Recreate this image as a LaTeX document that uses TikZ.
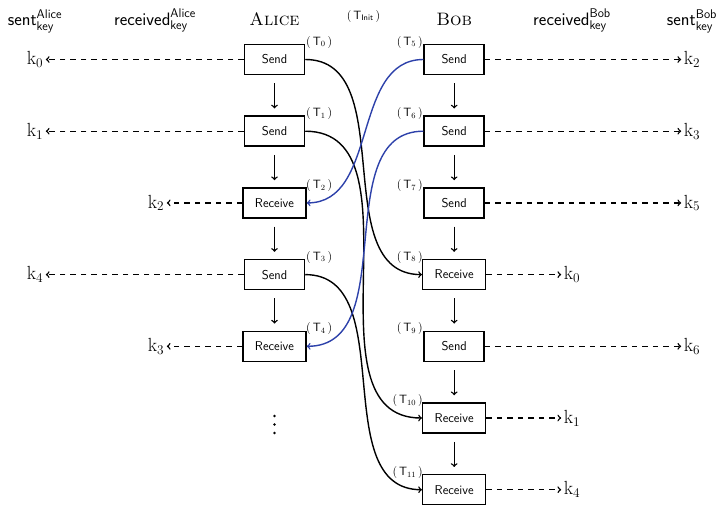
\RequirePackage{fix-cm}
\documentclass[tikz,border=0pt]{standalone}
\usepackage{amsmath}
\definecolor{myblue}{RGB}{45,65,170}
\begin{document}
\begin{tikzpicture}[x=1pt,y=-1pt,
  box/.style={draw,line width=1.5pt,minimum width=60pt,minimum height=30pt,inner xsep=12pt,font=\fontsize{12.8}{14}\selectfont\sffamily},
  tlabel/.style={font=\fontsize{12}{13}\selectfont,inner sep=0pt},
  hdr/.style={font=\fontsize{18}{20}\selectfont,anchor=base,inner sep=0pt},
  key/.style={font=\fontsize{19}{21}\selectfont,inner sep=2.5pt},
  conn/.style={line width=1.4pt,->},
  bconn/.style={line width=1.4pt,->,myblue},
  dsh/.style={line width=1.4pt,->,dash pattern=on 5.5pt off 5pt},
  flow/.style={line width=1.4pt,->,shorten <=8pt,shorten >=7pt},
  dotmark/.style={fill,circle,inner sep=0pt,minimum size=2.6pt},
]
\useasboundingbox (0,0) rectangle (721,509);

% headers
\node[hdr] (hsa) at (35,25.5) {$\textsf{sent}^{\textsf{Alice}}_{\textsf{key}}$};
\node[hdr] (hra) at (155,25.5) {$\textsf{received}^{\textsf{Alice}}_{\textsf{key}}$};
\node[hdr] (hal) at (274.5,25.5) {\textsc{Alice}};
\node[tlabel] (tinit) at (363.5,16) {$(\,\mathsf{T}_{\mathsf{Init}}\,)$};
\node[hdr] (hbo) at (454.2,25.5) {\textsc{Bob}};
\node[hdr] (hrb) at (572,25.5) {$\textsf{received}^{\textsf{Bob}}_{\textsf{key}}$};
\node[hdr] (hsb) at (692,25.5) {$\textsf{sent}^{\textsf{Bob}}_{\textsf{key}}$};

% Alice boxes
\node[box] (a0) at (274.5,59.5) {Send};
\node[box] (a1) at (274.5,131.2) {Send};
\node[box] (a2) at (274.5,202.9) {Receive};
\node[box] (a3) at (274.5,274.6) {Send};
\node[box] (a4) at (274.5,346.3) {Receive};
% vertical ellipsis
\node[dotmark] (d1) at (274.5,416) {};
\node[dotmark] (d2) at (274.5,424.5) {};
\node[dotmark] (d3) at (274.5,433) {};

% Bob boxes
\node[box] (b0) at (454.2,59.5) {Send};
\node[box] (b1) at (454.2,131.2) {Send};
\node[box] (b2) at (454.2,202.9) {Send};
\node[box] (b3) at (454.2,274.6) {Receive};
\node[box] (b4) at (454.2,346.3) {Send};
\node[box] (b5) at (454.2,418) {Receive};
\node[box] (b6) at (454.2,489.7) {Receive};

% T labels Alice
\node[tlabel,anchor=west] (t0) at (306,42) {$(\,\mathsf{T}_{0}\,)$};
\node[tlabel,anchor=west] (t1) at (306,113.7) {$(\,\mathsf{T}_{1}\,)$};
\node[tlabel,anchor=west] (t2) at (306,185.4) {$(\,\mathsf{T}_{2}\,)$};
\node[tlabel,anchor=west] (t3) at (306,257.1) {$(\,\mathsf{T}_{3}\,)$};
\node[tlabel,anchor=west] (t4) at (306,328.8) {$(\,\mathsf{T}_{4}\,)$};
% T labels Bob
\node[tlabel,anchor=east] (t5) at (423,42) {$(\,\mathsf{T}_{5}\,)$};
\node[tlabel,anchor=east] (t6) at (423,113.7) {$(\,\mathsf{T}_{6}\,)$};
\node[tlabel,anchor=east] (t7) at (423,185.4) {$(\,\mathsf{T}_{7}\,)$};
\node[tlabel,anchor=east] (t8) at (423,257.1) {$(\,\mathsf{T}_{8}\,)$};
\node[tlabel,anchor=east] (t9) at (423,328.8) {$(\,\mathsf{T}_{9}\,)$};
\node[tlabel,anchor=east] (t10) at (423,400.5) {$(\,\mathsf{T}_{10}\,)$};
\node[tlabel,anchor=east] (t11) at (423,472.2) {$(\,\mathsf{T}_{11}\,)$};

% keys left
\node[key] (ka0) at (35,59.5) {$\mathrm{k}_0$};
\node[key] (ka1) at (35,131.2) {$\mathrm{k}_1$};
\node[key] (ka2) at (156,202.9) {$\mathrm{k}_2$};
\node[key] (ka3) at (35,274.6) {$\mathrm{k}_4$};
\node[key] (ka4) at (156,346.3) {$\mathrm{k}_3$};
% keys right
\node[key] (kb0) at (692,59.5) {$\mathrm{k}_2$};
\node[key] (kb1) at (692,131.2) {$\mathrm{k}_3$};
\node[key] (kb2) at (692,202.9) {$\mathrm{k}_5$};
\node[key] (kb3) at (572,274.6) {$\mathrm{k}_0$};
\node[key] (kb4) at (692,346.3) {$\mathrm{k}_6$};
\node[key] (kb5) at (572,418) {$\mathrm{k}_1$};
\node[key] (kb6) at (572,489.7) {$\mathrm{k}_4$};

% dashed arrows
\draw[dsh] (a0) -- (ka0);
\draw[dsh] (a1) -- (ka1);
\draw[dsh] (a2) -- (ka2);
\draw[dsh] (a3) -- (ka3);
\draw[dsh] (a4) -- (ka4);
\draw[dsh] (b0) -- (kb0);
\draw[dsh] (b1) -- (kb1);
\draw[dsh] (b2) -- (kb2);
\draw[dsh] (b3) -- (kb3);
\draw[dsh] (b4) -- (kb4);
\draw[dsh] (b5) -- (kb5);
\draw[dsh] (b6) -- (kb6);

% vertical flow
\draw[flow] (a0) -- (a1);
\draw[flow] (a1) -- (a2);
\draw[flow] (a2) -- (a3);
\draw[flow] (a3) -- (a4);
\draw[flow] (b0) -- (b1);
\draw[flow] (b1) -- (b2);
\draw[flow] (b2) -- (b3);
\draw[flow] (b3) -- (b4);
\draw[flow] (b4) -- (b5);
\draw[flow] (b5) -- (b6);

% messages
\draw[conn] (a0.east) to[out=0,in=180] (b3.west);
\draw[conn] (a1.east) to[out=0,in=180] (b5.west);
\draw[conn] (a3.east) to[out=0,in=180] (b6.west);
\draw[bconn] (b0.west) to[out=180,in=0] (a2.east);
\draw[bconn] (b1.west) to[out=180,in=0] (a4.east);
\end{tikzpicture}
\end{document}
